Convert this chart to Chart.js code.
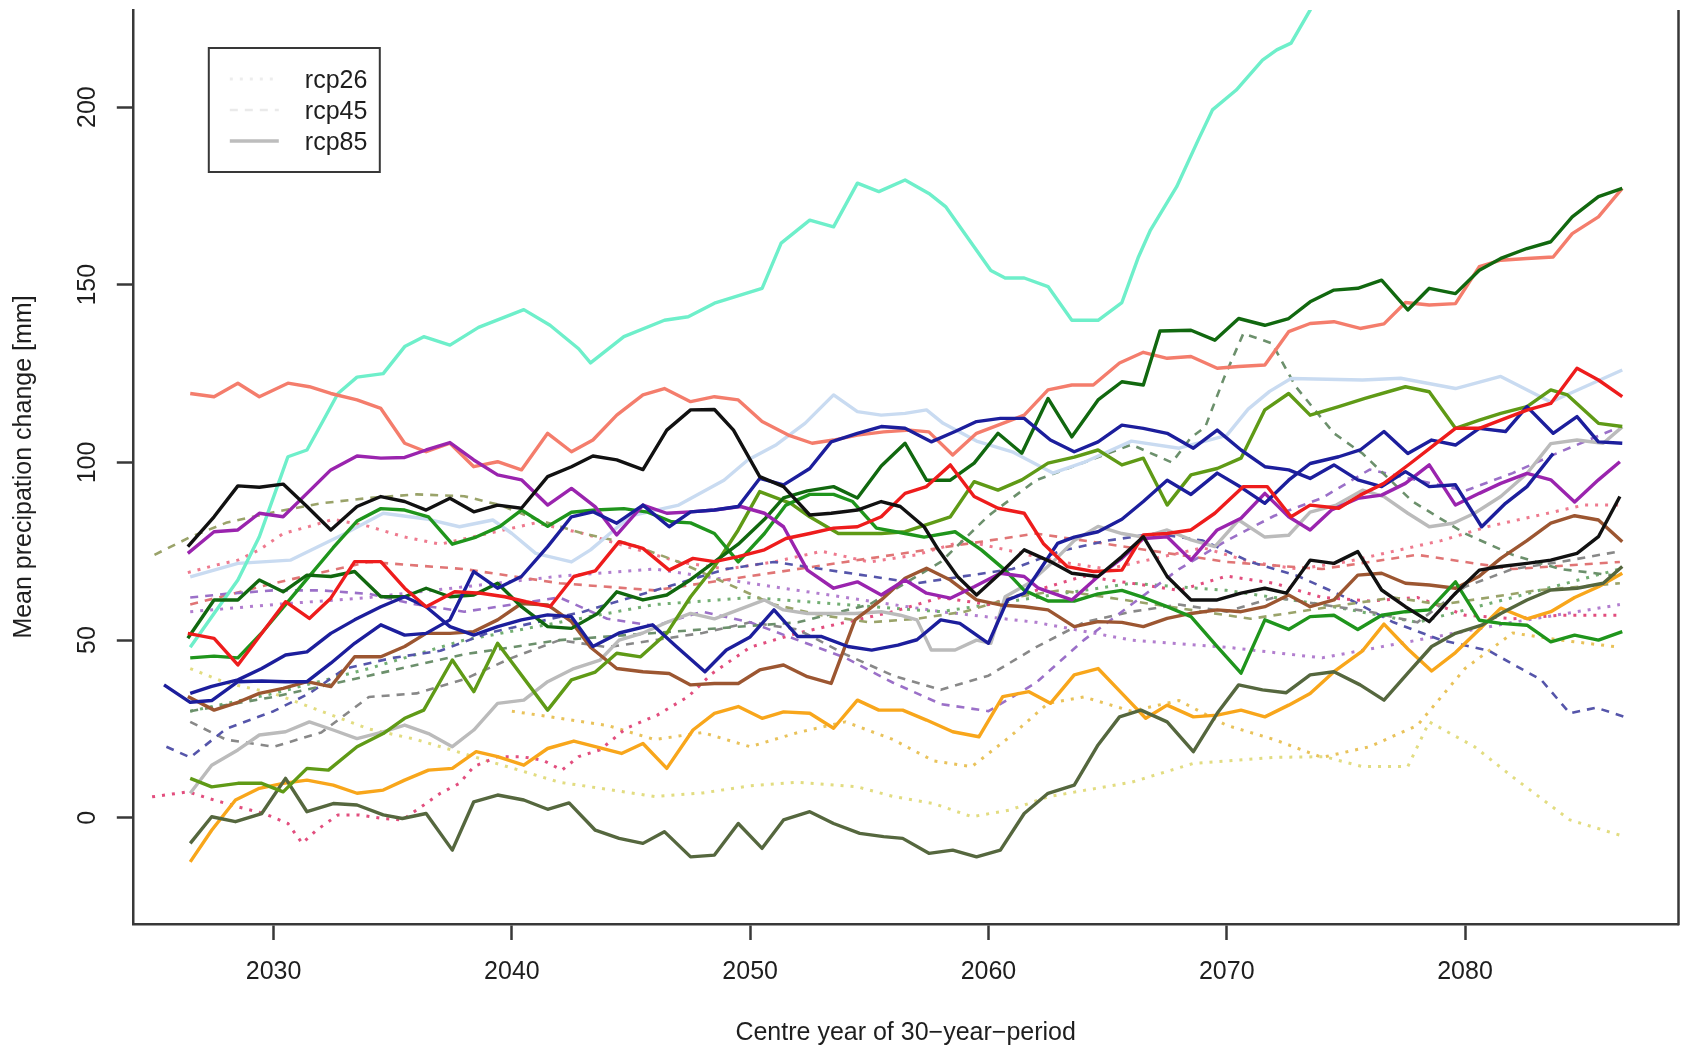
<!DOCTYPE html>
<html>
<head>
<meta charset="utf-8">
<script src="https://cdn.jsdelivr.net/npm/chart.js@4.4.1/dist/chart.umd.min.js"></script>
<style>
  html, body { margin: 0; padding: 0; background: #ffffff; }
  #wrap { width: 1686px; height: 1052px; }
</style>
</head>
<body>
<div id="wrap"><canvas id="c" width="1686" height="1052"></canvas></div>
<script>
// Axis ticks and texts
const xTicks = [2030, 2040, 2050, 2060, 2070, 2080];
const yTicks = [0, 50, 100, 150, 200];
const scenarios = ['rcp26', 'rcp45', 'rcp85'];
const xTitle = 'Centre year of 30\u2212year\u2212period';
const yTitle = 'Mean precipation change [mm]';

// ---- rcp85 runs (solid) : [centre year, change in mm] ----
const aquamarine85 = [[2026.5,48],[2027.5,57.5],[2028.5,66.9],[2029.4,79.1],[2030.1,92.2],[2030.6,101.6],[2031.4,103.5],[2032.1,112],[2032.7,119.4],[2033.5,124],[2034.6,125],[2035.5,132.6],[2036.3,135.4],[2037.4,133],[2038.6,138],[2040.5,143],[2041.6,138.6],[2042.8,132],[2043.3,128],[2044.7,135.4],[2046.4,140],[2047.4,141],[2048.5,144.8],[2050.5,149],[2051.3,161.7],[2052.5,168.2],[2053.5,166.3],[2054.5,178.6],[2055.4,176.2],[2056.5,179.5],[2057.5,175.7],[2058.2,172],[2060.1,154],[2060.7,151.9],[2061.5,151.9],[2062.5,149.5],[2063.5,140],[2064.6,140],[2065.6,145],[2066.3,157.9],[2066.8,165.4],[2067.9,177.6],[2068.8,190.7],[2069.4,199.2],[2070.4,204.8],[2071.5,213.2],[2072.1,216.1],[2072.7,218],[2073.5,227.3],[2074.5,238]];
const salmon85 = [[2026.5,119.4],[2027.5,118.5],[2028.5,122.3],[2029.4,118.5],[2030.6,122.3],[2031.5,121.3],[2032.4,119.4],[2033.5,117.6],[2034.5,115.2],[2035.5,105.4],[2036.4,103],[2037.4,105.4],[2038.4,98.8],[2039.4,100.2],[2040.4,97.9],[2041.5,108.2],[2042.5,103],[2043.4,106.3],[2044.4,113.3],[2045.5,119],[2046.4,120.8],[2047.5,117.1],[2048.5,118.5],[2049.5,117.6],[2050.5,111.5],[2051.6,107.7],[2052.6,105.4],[2053.5,106.3],[2054.5,107.7],[2055.6,108.6],[2056.7,109.1],[2057.5,108.6],[2058.5,102.1],[2059.5,108.2],[2060.6,111],[2061.5,113.3],[2062.5,120.4],[2063.5,121.8],[2064.4,121.8],[2065.5,128],[2066.5,131],[2067.5,129.3],[2068.5,129.8],[2069.6,126.5],[2070.5,127],[2071.6,127.4],[2072.6,136.8],[2073.5,139.1],[2074.5,139.6],[2075.6,137.7],[2076.6,139],[2077.5,145],[2078.5,144.3],[2079.6,144.7],[2080.6,155.1],[2081.5,156.9],[2082.6,157.4],[2083.7,157.8],[2084.5,164.4],[2085.6,169.1],[2086.6,177.1]];
const black85 = [[2026.4,76.3],[2027.5,84.7],[2028.5,93.4],[2029.4,93],[2030.4,93.9],[2031.4,87.6],[2032.4,81],[2033.5,87.6],[2034.5,90.4],[2035.5,89],[2036.4,86.6],[2037.4,89.9],[2038.4,86.1],[2039.4,88],[2040.4,87.1],[2041.5,96],[2042.5,98.8],[2043.4,101.8],[2044.4,100.7],[2045.5,98],[2046.5,109.1],[2047.5,114.8],[2048.5,114.9],[2049.3,109.1],[2050.4,96],[2051.4,93.2],[2052.5,85.2],[2053.4,85.7],[2054.5,86.6],[2055.5,89],[2056.3,87.6],[2057.3,81.9],[2057.9,75.4],[2058.7,67.9],[2059.5,62.7],[2060.5,68.8],[2061.5,75.4],[2062.6,72.1],[2063.5,68.8],[2064.6,67.9],[2065.6,73.5],[2066.5,79.1],[2067.5,67.9],[2068.5,61.3],[2069.6,61.3],[2070.6,63.2],[2071.6,64.6],[2072.5,63.2],[2073.5,72.5],[2074.5,71.6],[2075.5,74.9],[2076.5,64.1],[2077.5,59.4],[2078.5,55.2],[2079.6,63.2],[2080.6,69.7],[2081.5,70.7],[2082.6,71.6],[2083.6,72.5],[2084.7,74.4],[2085.6,79.1],[2086.5,90.4]];
const purple85 = [[2026.4,74.4],[2027.5,80.5],[2028.5,81],[2029.4,85.7],[2030.4,84.7],[2031.4,91.3],[2032.4,97.9],[2033.5,101.8],[2034.5,101.2],[2035.5,101.4],[2036.4,103.5],[2037.4,105.6],[2038.4,100.7],[2039.4,96.5],[2040.4,95.1],[2041.5,88],[2042.5,92.7],[2043.5,87.5],[2044.4,79.6],[2045.5,88],[2046.5,85.7],[2047.5,86.1],[2048.5,86.6],[2049.6,87.6],[2050.6,85.7],[2051.4,81.9],[2052.4,69.7],[2053.5,64.6],[2054.5,66.4],[2055.5,62.7],[2056.5,66.9],[2057.4,63.2],[2058.4,61.8],[2059.4,65],[2060.5,68.8],[2061.5,67.9],[2062.1,64.6],[2063.5,61.3],[2064.6,67.9],[2065.6,73],[2066.5,78.6],[2067.5,79.1],[2068.5,72.5],[2069.6,81],[2070.6,84.3],[2071.6,91.3],[2072.6,84.7],[2073.5,81],[2074.4,86.6],[2075.5,89.9],[2076.5,90.8],[2077.5,94.1],[2078.5,99.3],[2079.6,88],[2080.6,91.3],[2081.5,94.1],[2082.6,96.9],[2083.6,95.1],[2084.6,88.9],[2085.6,95.1],[2086.5,100.2]];
const red85 = [[2026.4,51.9],[2027.5,50.5],[2028.5,43],[2029.4,51],[2030.5,60.8],[2031.5,56.1],[2032.4,61.8],[2033.4,72.1],[2034.5,72.1],[2035.5,64.6],[2036.4,59.4],[2037.6,63.6],[2038.7,63.2],[2039.7,62.2],[2040.6,60.8],[2041.6,59.4],[2042.6,67.9],[2043.5,69.5],[2044.5,77.7],[2045.5,75.8],[2046.6,69.7],[2047.6,73],[2048.5,72.1],[2049.5,73.5],[2050.6,75.4],[2051.5,78.6],[2052.5,80],[2053.5,81.5],[2054.5,81.9],[2055.5,84.7],[2056.5,91.3],[2057.4,93.2],[2058.4,99.3],[2059.4,90.4],[2060.4,87.1],[2061.5,85.7],[2062.3,77.2],[2063.3,70.7],[2064.4,69.3],[2065.6,69.7],[2066.5,79.6],[2067.5,80],[2068.5,81],[2069.5,85.7],[2070.7,93.2],[2071.7,93.2],[2072.7,84.7],[2073.5,88],[2074.7,87.1],[2075.6,90.8],[2076.6,94.1],[2077.7,99.7],[2078.6,104.4],[2079.6,109.6],[2080.6,109.6],[2081.5,111.9],[2082.6,114.7],[2083.6,116.6],[2084.7,126.5],[2085.6,123.2],[2086.6,118.5]];
const darkgreen85 = [[2026.4,50.5],[2027.5,61.3],[2028.5,61.3],[2029.4,66.9],[2030.4,63.6],[2031.4,68.3],[2032.4,67.9],[2033.4,69.3],[2034.5,62.2],[2035.5,62.2],[2036.4,64.6],[2037.4,62.2],[2038.4,62.7],[2039.4,66],[2040.4,59.4],[2041.5,53.8],[2042.5,53.3],[2043.6,57.5],[2044.4,63.6],[2045.5,61.3],[2046.5,62.7],[2047.5,67],[2048.5,72],[2049.5,77],[2050.6,84],[2051.4,90],[2052.4,92],[2053.5,93.2],[2054.5,90],[2055.5,99],[2056.5,105.4],[2057.4,95],[2058.4,95],[2059.4,99.8],[2060.4,108.2],[2061.4,102.6],[2062.5,118],[2063.5,107.2],[2064.6,117.6],[2065.6,122.7],[2066.5,121.8],[2067.2,137],[2068.5,137.2],[2069.5,134.4],[2070.5,140.5],[2071.6,138.6],[2072.6,140.5],[2073.5,145.2],[2074.5,148.5],[2075.5,149],[2076.5,151.3],[2077.6,142.9],[2078.5,149],[2079.6,147.5],[2080.6,154.1],[2081.5,157.4],[2082.6,160.2],[2083.6,162.1],[2084.5,169.1],[2085.6,174.8],[2086.6,177.1]];
const forestgreen85 = [[2026.5,45],[2027.5,45.5],[2028.5,45],[2029.5,52],[2030.5,60],[2031.5,68],[2032.5,76],[2033.5,83.5],[2034.5,87],[2035.5,86.6],[2036.5,84.7],[2037.5,77],[2038.5,79],[2039.5,82],[2040.4,86.6],[2041.5,82],[2042.5,86],[2043.5,86.6],[2044.7,87],[2045.7,86],[2046.7,83.3],[2047.5,83],[2048.5,80],[2049.5,72],[2050.6,80],[2051.5,88],[2052.5,91],[2053.5,91],[2054.3,89],[2055.3,81.5],[2056.5,80],[2057.3,79],[2058.6,80.5],[2059.7,75.4],[2060.7,69.7],[2061.5,64],[2062.5,61],[2063.6,61],[2064.6,63],[2065.6,64],[2066.5,62],[2067.5,59.4],[2068.5,56.6],[2069.6,48.2],[2070.6,40.7],[2071.6,55.7],[2072.6,53],[2073.5,56.6],[2074.5,57],[2075.5,53],[2076.5,57],[2077.5,58],[2078.5,58.5],[2079.6,66.4],[2080.6,55.6],[2081.5,54.7],[2082.6,54.2],[2083.6,49.5],[2084.6,51.4],[2085.6,50],[2086.6,52.4]];
const olivedrab85 = [[2026.5,11.1],[2027.4,8.7],[2028.5,9.7],[2029.5,9.7],[2030.4,7.3],[2031.4,13.9],[2032.3,13.4],[2033.5,20],[2034.6,23.7],[2035.5,28],[2036.3,30.3],[2037.5,44.4],[2038.4,35.5],[2039.4,49.1],[2041.5,30.3],[2042.5,38.8],[2043.5,41],[2044.4,46.3],[2045.4,45.3],[2046.5,51.9],[2047.5,62.2],[2048.5,70.7],[2049.5,81],[2050.4,91.8],[2051.7,88.5],[2052.5,84.7],[2053.7,80],[2054.5,80],[2055.5,80],[2056.5,80.5],[2057.6,82.9],[2058.4,84.7],[2059.4,94.6],[2060.4,92.2],[2061.4,95.1],[2062.5,99.8],[2063.6,101.5],[2064.6,103.5],[2065.6,99.3],[2066.5,101.2],[2067.5,88],[2068.5,96.5],[2069.6,98.3],[2070.6,101.2],[2071.6,114.8],[2072.6,119.4],[2073.5,113.3],[2074.7,115.7],[2075.8,118],[2077.5,121.3],[2078.5,119.9],[2079.6,109.6],[2080.6,111.9],[2081.5,113.8],[2082.6,115.7],[2083.6,120.4],[2084.3,119],[2085.6,111],[2086.6,110.1]];
const darkolive85 = [[2026.5,-7.2],[2027.4,0.3],[2028.4,-1.1],[2029.5,1.2],[2030.5,11.1],[2031.4,1.7],[2032.5,4],[2033.5,3.6],[2034.6,0.8],[2035.4,-0.2],[2036.4,1.2],[2037.5,-9.1],[2038.4,4.5],[2039.4,6.4],[2040.5,5],[2041.5,2.4],[2042.4,4.2],[2043.5,-3.5],[2044.5,-5.8],[2045.5,-7.2],[2046.4,-3.9],[2047.5,-11],[2048.5,-10.5],[2049.5,-1.6],[2050.5,-8.6],[2051.4,-0.6],[2052.5,1.7],[2053.5,-1.6],[2054.6,-4.4],[2055.6,-5.3],[2056.4,-5.8],[2057.5,-10],[2058.5,-9.1],[2059.5,-11],[2060.5,-9.1],[2061.5,1.2],[2062.5,6.9],[2063.6,9.2],[2064.6,20.5],[2065.5,28.4],[2066.4,30.3],[2067.5,27],[2068.6,18.6],[2069.6,29.4],[2070.5,37.4],[2071.5,36],[2072.5,35.2],[2073.5,40.2],[2074.5,41.1],[2075.6,37.4],[2076.6,33.1],[2077.6,40.7],[2078.6,48.2],[2079.6,51.9],[2080.7,54.2],[2081.5,57.5],[2082.6,61.3],[2083.6,64.1],[2084.7,64.6],[2085.8,66],[2086.6,70.7]];
const orange85 = [[2026.5,-12.4],[2027.4,-3.5],[2028.4,5],[2029.4,8.3],[2030.4,9.7],[2031.4,10.6],[2032.5,9.2],[2033.5,6.9],[2034.6,7.8],[2035.5,10.6],[2036.5,13.4],[2037.5,13.9],[2038.5,18.6],[2039.4,17.2],[2040.5,14.8],[2041.5,19.5],[2042.6,21.6],[2043.5,20],[2044.6,18.1],[2045.5,20.9],[2046.5,13.9],[2047.6,24.7],[2048.5,29.4],[2049.5,31.3],[2050.5,28],[2051.4,29.8],[2052.5,29.4],[2053.5,25.2],[2054.5,33.1],[2055.4,30.3],[2056.4,30.3],[2057.4,27.5],[2058.5,24.2],[2059.6,22.8],[2060.6,34.1],[2061.7,35.5],[2062.6,32.2],[2063.6,40.2],[2064.6,42],[2065.6,35],[2066.6,28],[2067.5,31.7],[2068.6,28.4],[2069.6,28.9],[2070.6,30.3],[2071.6,28.4],[2072.6,31.7],[2073.5,35],[2074.5,41.1],[2075.7,47],[2076.6,54.5],[2077.6,47.5],[2078.6,41.3],[2079.6,46.5],[2080.6,53],[2081.5,59],[2082.6,56],[2083.6,58],[2084.6,62],[2085.6,65],[2086.6,68.8]];
const brown85 = [[2026.4,34.1],[2027.5,30.3],[2028.5,32.5],[2029.4,35],[2030.4,36.4],[2031.4,38.3],[2032.4,36.9],[2033.4,45.3],[2034.5,45.3],[2035.5,48.2],[2036.4,51.9],[2037.4,51.9],[2038.4,52.4],[2039.4,55.7],[2040.4,60.3],[2041.5,59.9],[2042.5,55.2],[2043.3,48],[2044.4,42],[2045.5,41.1],[2046.6,40.6],[2047.5,37.4],[2048.5,37.8],[2049.5,37.8],[2050.4,41.6],[2051.4,43],[2052.4,39.7],[2053.4,37.8],[2054.4,55.7],[2055.5,61.3],[2056.5,67.4],[2057.4,70.2],[2058.4,66.9],[2059.5,61.3],[2060.5,59.9],[2061.5,59.4],[2062.5,58.5],[2063.6,53.8],[2064.6,55.2],[2065.6,55],[2066.5,53.8],[2067.5,56.1],[2068.5,57.5],[2069.6,58.5],[2070.6,58],[2071.6,59.4],[2072.6,62.7],[2073.5,59.4],[2074.5,61.3],[2075.5,68.3],[2076.5,68.8],[2077.5,66],[2078.5,65.5],[2079.6,64.6],[2080.6,68],[2081.5,73],[2082.6,78],[2083.6,82.9],[2084.6,85],[2085.6,83.8],[2086.6,77.7]];
const navyA85 = [[2025.4,37.4],[2026.5,32.5],[2027.4,33],[2028.5,38.3],[2029.5,38.5],[2030.5,38.3],[2031.4,38.3],[2032.4,43.5],[2033.4,49.1],[2034.5,54.3],[2035.5,51.4],[2036.4,51.9],[2037.4,55.7],[2038.4,69.3],[2039.4,64.6],[2040.4,67.9],[2041.5,76.3],[2042.5,84.7],[2043.4,86.1],[2044.4,82.9],[2045.5,88],[2046.6,81.9],[2047.5,86.1],[2048.5,86.6],[2049.5,87.6],[2050.4,95.5],[2051.4,93.7],[2052.5,98.3],[2053.4,105.8],[2054.5,108.2],[2055.5,110.1],[2056.5,109.6],[2057.6,105.8],[2058.6,108.7],[2059.5,111.5],[2060.5,112.4],[2061.5,112.4],[2062.6,106.3],[2063.6,103],[2064.6,105.8],[2065.6,110.5],[2066.5,109.6],[2067.5,108.2],[2068.6,104],[2069.6,109.1],[2070.6,103.5],[2071.6,98.8],[2072.6,97.9],[2073.5,95.5],[2074.5,99.3],[2075.5,95.1],[2076.5,93.2],[2077.5,97.4],[2078.5,93.2],[2079.6,93.7],[2080.7,81.9],[2081.7,88.5],[2082.6,93.2],[2083.7,102.5]];
const navyB85 = [[2026.5,35],[2027.4,37],[2028.5,38.8],[2029.5,42],[2030.5,45.8],[2031.4,46.7],[2032.4,51.9],[2033.4,55.7],[2034.5,59.4],[2035.5,62.2],[2036.4,59.4],[2037.4,53.8],[2038.4,51.4],[2039.4,53.8],[2040.4,55.7],[2041.5,57.1],[2042.5,56.6],[2043.4,48.2],[2044.5,52],[2045.9,54.3],[2046.9,48.2],[2048.1,41.1],[2049,47.2],[2050,50.9],[2051,58.5],[2052,51],[2053,51],[2054.1,48.2],[2055.1,47.2],[2056.2,48.6],[2057,50.1],[2058,55.7],[2058.8,54.7],[2060,49.1],[2060.8,61.3],[2061.5,63.2],[2062.9,77.2],[2063.6,79],[2064.6,80.5],[2065.6,84],[2066.5,89],[2067.5,95],[2068.5,91],[2069.6,97],[2070.6,93],[2071.6,88.5],[2072.6,95],[2073.5,99.7],[2074.7,101.6],[2075.6,103.5],[2076.6,108.7],[2077.6,102.5],[2078.6,106.3],[2079.6,104.9],[2080.6,109.6],[2081.7,108.7],[2082.6,115.7],[2083.7,108.2],[2084.7,112.9],[2085.6,105.8],[2086.6,105.4]];
const grey85 = [[2026.5,6.9],[2027.4,14.8],[2028.5,19.1],[2029.4,23.3],[2030.5,24.2],[2031.5,27],[2032.5,24.7],[2033.5,22.3],[2034.6,24.2],[2035.5,26.1],[2036.5,23.7],[2037.5,20],[2038.4,24.7],[2039.4,32.2],[2040.5,33.1],[2041.5,38.3],[2042.6,42],[2043.7,44.4],[2044.5,50],[2045.5,52],[2046.5,55],[2047.5,57.5],[2048.5,56],[2049.5,58.5],[2050.6,61.3],[2051.4,58.5],[2052.4,57.5],[2053.4,57.5],[2054.4,57.5],[2055.5,58],[2056.3,57],[2057,55.7],[2057.6,47.2],[2058.6,47.2],[2059.5,50],[2060.1,49.1],[2060.7,62.2],[2061.7,66],[2062.7,72],[2063.6,78],[2064.6,82],[2065.6,80],[2066.5,79],[2067.5,81],[2068.5,78.2],[2069.5,76.3],[2070.5,83.8],[2071.6,79],[2072.6,79.5],[2073.5,86],[2074.6,88],[2075.7,92.2],[2076.6,90.4],[2077.6,85.7],[2078.5,81.9],[2079.5,82.9],[2080.4,85.7],[2081.5,90.4],[2082.6,96.9],[2083.6,105.3],[2084.7,106.3],[2085.8,105.4],[2086.6,110]];
const steelblue85 = [[2026.5,67.8],[2028.5,71.6],[2030.7,72.5],[2033,80],[2034.6,85.7],[2036.5,84],[2037.8,81.9],[2039.2,83.8],[2040,80],[2041,74.4],[2042.5,72],[2043.3,75.4],[2045,85],[2047,88],[2048.9,95],[2049.9,100.7],[2051.1,105],[2052.3,111],[2053.5,119],[2054.5,114.3],[2055.5,113.3],[2056.5,113.8],[2057.4,114.8],[2058.1,111],[2059.5,106],[2061,103],[2062.7,97],[2064,100],[2066,106],[2068,104],[2070,107.6],[2070.9,115],[2071.8,120],[2072.7,123.6],[2075.7,123.2],[2077.3,123.7],[2079.6,120.8],[2081.5,124.2],[2083.6,117],[2086.6,126]];

// ---- rcp45 runs (dashed) ----
const olive45 = [[2025,74],[2026.5,79],[2028,83],[2030,86],[2032,88.5],[2034,90],[2036,91],[2038,90.5],[2039.5,88],[2041,84],[2043,80],[2045,77],[2047,72],[2049,66],[2051,60],[2053,57],[2055,55],[2057,56],[2059,58],[2061,62],[2063,64],[2065,62],[2067,60],[2069,58],[2071,56],[2073,58],[2075,60],[2077,62],[2079,60],[2081,62],[2083,64],[2086.5,66]];
const green45 = [[2026.5,30],[2030,34],[2034,40],[2038,46],[2042,50],[2046,52],[2050,54],[2052,55],[2055,60],[2058,72],[2060,85],[2062,95],[2064,100],[2066,105],[2067.7,100],[2068.5,107],[2069.1,110],[2069.9,124],[2070.7,136.3],[2071.9,133.5],[2072.9,121.3],[2074.5,108.2],[2075.7,102.5],[2077.8,89],[2080,80],[2082,74],[2084,70],[2086.5,68]];
const navy45 = [[2025.5,20],[2026.5,17],[2028,25],[2030,30],[2031.5,35],[2033,42],[2035,45],[2037,47],[2039,52],[2041,55],[2043,58],[2045,62],[2047,66],[2049,70],[2051,72],[2053,70],[2055,68],[2057,66],[2059,68],[2061,70],[2063,75],[2065,78],[2067,80],[2069,78],[2071,72],[2073,68],[2075,62],[2077,55],[2079,50],[2081,47],[2083.2,38.8],[2084.4,29.4],[2085.5,31],[2086.7,28.4]];
const purple45 = [[2026.5,62],[2028,63],[2030,64],[2032,64],[2034,63],[2036,60],[2038,58],[2040,60],[2042,62],[2044,56],[2046,54],[2048,58],[2050,55],[2052,50],[2054,45],[2056,38],[2058,32],[2060,30],[2062,38],[2064,50],[2066,60],[2068,70],[2070,78],[2072,85],[2074,90],[2076,98],[2078,95],[2080,92],[2082,97],[2084,103],[2086.5,110]];
const grey45 = [[2026.5,27],[2028,22],[2030,20],[2032,24],[2034,34],[2036,35],[2038,39],[2040,45],[2042,50],[2044,48],[2046,50],[2048,52],[2050,55],[2052,53],[2054,46],[2056,40],[2058,36],[2060,40],[2062,48],[2064,55],[2066,58],[2068,60],[2070,58],[2072,62],[2074,60],[2076,58],[2078,55],[2080,65],[2082,70],[2084,72],[2086.5,75]];
const red45 = [[2026.5,60],[2030,66],[2034,72],[2038,70],[2042,66],[2046,64],[2050,68],[2054,72],[2058,76],[2062,80],[2066,76],[2070,72],[2074,70],[2078,74],[2082,70],[2086.5,72]];

// ---- rcp26 runs (dotted) ----
const pink26 = [[2026.4,69],[2027.5,71],[2028.5,72.5],[2029.4,75.4],[2030.4,80],[2031.5,82],[2032.5,84],[2034,82],[2035.5,79],[2037,77],[2039,80],[2041,83],[2043,80],[2045,76],[2047,72],[2049,70],[2051,72],[2053,75],[2055,72],[2057,74],[2059,78],[2061,75],[2063,72],[2065,70],[2067,73],[2069,76],[2071,72],[2073,70],[2075,72],[2077,75],[2079,78],[2081,82],[2083,85],[2085,88],[2086.5,88]];
const crimson26 = [[2024.9,5.9],[2026.4,7.3],[2027.5,5],[2028.5,3.1],[2029.6,1.2],[2030.6,-1.6],[2031.2,-7.2],[2031.8,-3.5],[2032.7,0.8],[2033.6,0.8],[2034.6,-0.2],[2035.4,-0.6],[2036.2,3.1],[2037,6.9],[2037.8,9.7],[2038.4,14.4],[2039.4,17.2],[2040.4,17.2],[2041.3,16.2],[2042.1,13.4],[2042.8,17.2],[2043.7,19.1],[2044.8,25.2],[2046.1,28.9],[2047.4,34.1],[2048.4,40.6],[2050,48],[2052,52],[2054,55],[2056,58],[2058,62],[2060,60],[2062,64],[2064,68],[2066,66],[2068,64],[2070,68],[2072,66],[2074,62],[2076,61],[2078,62],[2080,57],[2082,56],[2084,57],[2086.5,57]];
const yellow26 = [[2026.5,42],[2028,38],[2030,35],[2032,30],[2034,25],[2036,22],[2038,18],[2040,14],[2042,10],[2044,8],[2046,6],[2048,7],[2050,9],[2052,10],[2054.5,8.7],[2056,6],[2057.7,4],[2059.3,0.3],[2060.9,2.2],[2062.5,5.9],[2064.1,7.8],[2066,10],[2068.6,15.3],[2070,16],[2072,17],[2074.1,17.2],[2075.7,14.4],[2077.6,14.4],[2078.5,27],[2080.4,20],[2082,11.5],[2084.4,-0.6],[2086.7,-5.3]];
const gold26 = [[2040,30],[2042,28],[2044,26],[2046,22],[2048,24],[2050,20],[2052,24],[2054,27],[2056,22],[2057.7,16],[2059.3,14.4],[2060.9,22.8],[2062.5,32.2],[2064,34],[2066,30],[2068,33],[2070,26],[2072,22],[2074,17],[2076,20],[2078,26],[2080,42],[2082,52],[2084,50],[2086.5,48]];
const green26 = [[2026.5,30],[2030,35],[2034,42],[2038,50],[2042,55],[2046,60],[2050,62],[2054,60],[2058,58],[2062,62],[2066,66],[2070,64],[2074,60],[2078,55],[2082,62],[2086.5,70]];
const purple26 = [[2026.5,58],[2030,60],[2034,62],[2038,65],[2042,68],[2046,70],[2050,66],[2054,62],[2058,58],[2062,55],[2066,50],[2070,48],[2074,45],[2078,50],[2082,55],[2086.5,60]];

// ---- line styles per scenario ----
const DASH = [8, 7];
const DOT = [3, 7];
const W85 = 3.4, W45 = 2.6, W26 = 3;

function series(data, color, dash, width) {
  return {
    data: data.map(p => ({ x: p[0], y: p[1] })),
    borderColor: color,
    borderWidth: width,
    borderDash: dash,
    borderCapStyle: 'butt',
    borderJoinStyle: 'round',
    pointRadius: 0,
    tension: 0,
    fill: false
  };
}

// first entries are painted last (on top)
const datasets = [
  series(black85, '#111111', [], W85),
  series(red85, '#EE1C1C', [], W85),
  series(navyA85, '#1C1E9C', [], W85),
  series(navyB85, '#1C1E9C', [], W85),
  series(purple85, '#9A24AE', [], W85),
  series(darkgreen85, '#11680F', [], W85),
  series(forestgreen85, '#1F951C', [], W85),
  series(olivedrab85, '#5F9A16', [], W85),
  series(darkolive85, '#55673E', [], W85),
  series(brown85, '#9C5631', [], W85),
  series(orange85, '#F8A61B', [], W85),
  series(salmon85, '#F47D6C', [], W85),
  series(aquamarine85, '#6EEFCA', [], W85),
  series(grey85, '#BBBBBB', [], W85),
  series(steelblue85, '#C9DBF1', [], W85),
  series(olive45, '#9AA36A', DASH, W45),
  series(green45, '#6C906C', DASH, W45),
  series(navy45, '#5555AA', DASH, W45),
  series(purple45, '#9B70C8', DASH, W45),
  series(grey45, '#888888', DASH, W45),
  series(red45, '#E07575', DASH, W45),
  series(pink26, '#EE7A8E', DOT, W26),
  series(crimson26, '#E24E7E', DOT, W26),
  series(yellow26, '#E2DC80', DOT, W26),
  series(gold26, '#E9C25A', DOT, W26),
  series(green26, '#72AE72', DOT, W26),
  series(purple26, '#B27ECF', DOT, W26)
];

const FONT = { family: "'Liberation Sans', Arial, Helvetica, sans-serif", size: 25 };
const INK = '#1e1e1e';
const AXIS = '#383838';

// scenario key and right-hand frame edge
const keyPlugin = {
  id: 'scenarioKey',
  afterDraw(chart) {
    const ctx = chart.ctx;
    const a = chart.chartArea;
    ctx.save();
    // right frame edge
    ctx.strokeStyle = AXIS;
    ctx.lineWidth = 2.5;
    ctx.beginPath();
    ctx.moveTo(a.right, a.top);
    ctx.lineTo(a.right, a.bottom + 1.25);
    ctx.stroke();

    // key box
    const bx = a.left + 76, by = a.top + 38, bw = 171, bh = 124;
    ctx.fillStyle = '#ffffff';
    ctx.fillRect(bx, by, bw, bh);
    ctx.strokeStyle = AXIS;
    ctx.lineWidth = 2;
    ctx.strokeRect(bx, by, bw, bh);
    const styles = [
      { dash: DOT, color: '#EDEDED', w: W26 },
      { dash: DASH, color: '#EAEAEA', w: W45 },
      { dash: [], color: '#BDBDBD', w: W85 }
    ];
    ctx.font = FONT.size + 'px ' + FONT.family;
    ctx.textBaseline = 'middle';
    ctx.textAlign = 'left';
    scenarios.forEach((name, i) => {
      const cy = by + 33 + i * 31;
      const s = styles[i];
      ctx.setLineDash(s.dash);
      ctx.strokeStyle = s.color;
      ctx.lineWidth = s.w;
      ctx.beginPath();
      ctx.moveTo(bx + 21, cy - 2);
      ctx.lineTo(bx + 70, cy - 2);
      ctx.stroke();
      ctx.setLineDash([]);
      ctx.fillStyle = INK;
      ctx.fillText(name, bx + 96, cy);
    });
    ctx.restore();
  }
};

new Chart(document.getElementById('c'), {
  type: 'line',
  data: { datasets },
  options: {
    responsive: false,
    animation: false,
    devicePixelRatio: 1,
    layout: { padding: { left: 0, top: 10, right: 7.5, bottom: 0 } },
    plugins: { legend: { display: false }, tooltip: { enabled: false } },
    scales: {
      x: {
        type: 'linear',
        min: 2024.09,
        max: 2088.96,
        afterBuildTicks: s => { s.ticks = xTicks.map(v => ({ value: v })); },
        afterFit: s => { s.height = 128; s.paddingLeft = 0; s.paddingRight = 0; },
        grid: { display: true, drawOnChartArea: false, drawTicks: true, tickLength: 16, tickColor: AXIS, tickWidth: 2.5 },
        border: { display: true, color: AXIS, width: 2.5 },
        ticks: { color: INK, font: FONT, padding: 17, maxRotation: 0, minRotation: 0, autoSkip: false, callback: v => String(v) },
        title: { display: true, text: xTitle, color: INK, font: FONT, padding: { top: 0, bottom: 4 } }
      },
      y: {
        type: 'linear',
        min: -29.89,
        max: 227.32,
        afterBuildTicks: s => { s.ticks = yTicks.map(v => ({ value: v })); },
        afterFit: s => { s.width = 132.8; s.paddingTop = 0; s.paddingBottom = 0; },
        grid: { display: true, drawOnChartArea: false, drawTicks: true, tickLength: 16, tickColor: AXIS, tickWidth: 2.5 },
        border: { display: true, color: AXIS, width: 2.5 },
        ticks: { color: INK, font: FONT, padding: 8, minRotation: 90, maxRotation: 90, crossAlign: 'center', autoSkip: false, callback: v => String(v) },
        title: { display: true, text: yTitle, color: INK, font: FONT, padding: { top: 9.5, bottom: 0 } }
      }
    }
  },
  plugins: [keyPlugin]
});
</script>
</body>
</html>
